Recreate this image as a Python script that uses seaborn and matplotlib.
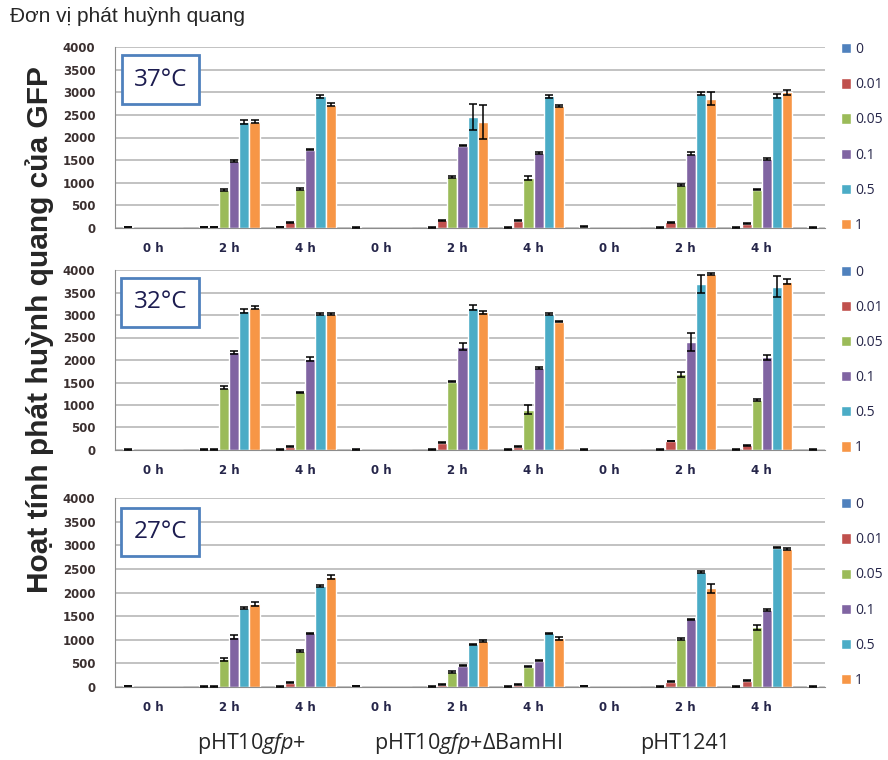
import numpy as np
import pandas as pd
import matplotlib
matplotlib.use("Agg")
import matplotlib.pyplot as plt
import seaborn as sns

sns.set_style("white")
plt.rcParams["font.family"] = ["DejaVu Sans"]
plt.rcParams["mathtext.fontset"] = "custom"
plt.rcParams["mathtext.rm"] = "Open Sans"
plt.rcParams["mathtext.it"] = "Open Sans:italic"

concs = ["0", "0.01", "0.05", "0.1", "0.5", "1"]
colors = ["#4F81BD", "#C0504D", "#9BBB59", "#8064A2", "#4BACC6", "#F79646"]
slot_labels = ["0 h", "2 h", "4 h", "0 h", "2 h", "4 h", "0 h", "2 h", "4 h"]
plasmids = ["pHT10$gfp$+", "pHT10$gfp$+ΔBamHI", "pHT1241"]
temps = ["37°C", "32°C", "27°C"]

# slots: 3 plasmids x (0 h, 2 h, 4 h) + one cut-off slot at the end
vals_37 = [
    [20, 20, 22, 15, 15, 15, 30, 15, 15, 15],
    [0, 20, 125, 0, 170, 160, 0, 125, 96, 0],
    [0, 847, 870, 0, 1128, 1105, 0, 958, 847, 0],
    [0, 1489, 1732, 0, 1820, 1658, 0, 1643, 1525, 0],
    [0, 2336, 2910, 0, 2454, 2910, 0, 2970, 2926, 0],
    [0, 2351, 2727, 0, 2343, 2704, 0, 2860, 3000, 0],
]
err_37 = [
    [5, 5, 5, 5, 5, 5, 5, 5, 5, 5],
    [0, 5, 10, 0, 10, 10, 0, 10, 10, 0],
    [0, 20, 20, 0, 20, 40, 0, 20, 15, 0],
    [0, 20, 15, 0, 15, 30, 0, 30, 15, 0],
    [0, 40, 35, 0, 290, 30, 0, 35, 45, 0],
    [0, 35, 35, 0, 370, 20, 0, 140, 50, 0],
]
vals_32 = [
    [15, 15, 10, 15, 10, 10, 15, 10, 10, 10],
    [0, 15, 75, 0, 163, 75, 0, 200, 104, 0],
    [0, 1385, 1282, 0, 1519, 889, 0, 1682, 1111, 0],
    [0, 2170, 2022, 0, 2296, 1815, 0, 2393, 2060, 0],
    [0, 3090, 3015, 0, 3163, 3022, 0, 3682, 3630, 0],
    [0, 3163, 3015, 0, 3060, 2852, 0, 3912, 3740, 0],
]
err_32 = [
    [5, 5, 5, 5, 5, 5, 5, 5, 5, 5],
    [0, 5, 10, 0, 10, 10, 0, 10, 10, 0],
    [0, 40, 10, 0, 15, 100, 0, 50, 15, 0],
    [0, 40, 40, 0, 80, 20, 0, 200, 50, 0],
    [0, 50, 20, 0, 50, 20, 0, 200, 230, 0],
    [0, 30, 20, 0, 30, 10, 0, 20, 60, 0],
]
vals_27 = [
    [20, 15, 15, 20, 15, 15, 20, 15, 15, 15],
    [0, 15, 92, 0, 50, 50, 0, 113, 135, 0],
    [0, 588, 765, 0, 319, 425, 0, 1012, 1260, 0],
    [0, 1062, 1133, 0, 446, 559, 0, 1430, 1628, 0],
    [0, 1664, 2138, 0, 906, 1133, 0, 2443, 2952, 0],
    [0, 1756, 2322, 0, 970, 1027, 0, 2089, 2917, 0],
]
err_27 = [
    [5, 5, 5, 5, 5, 5, 5, 5, 5, 5],
    [0, 5, 10, 0, 5, 5, 0, 10, 10, 0],
    [0, 30, 15, 0, 15, 10, 0, 15, 50, 0],
    [0, 40, 15, 0, 10, 10, 0, 10, 30, 0],
    [0, 20, 30, 0, 10, 15, 0, 20, 20, 0],
    [0, 50, 40, 0, 20, 25, 0, 100, 15, 0],
]

panels = [(vals_37, err_37), (vals_32, err_32), (vals_27, err_27)]
# axes boxes in pixels: top, bottom
boxes = [(47, 228), (270, 450), (498, 687)]
W, H = 888, 760

fig = plt.figure(figsize=(W / 100, H / 100), dpi=100)

for (vals, errs), (top, bot), temp in zip(panels, boxes, temps):
    ax = fig.add_axes([115 / W, 1 - bot / H, 710 / W, (bot - top) / H])
    rows = []
    for c, series in zip(concs, vals):
        for slot, v in enumerate(series):
            rows.append({"slot": slot, "conc": c, "val": v})
    df = pd.DataFrame(rows)
    sns.barplot(data=df, x="slot", y="val", hue="conc", hue_order=concs,
                order=list(range(10)), palette=colors, width=0.8, saturation=1,
                errorbar=None, ax=ax)
    for cont, e_series in zip(ax.containers, errs):
        for bar, e in zip(cont, e_series):
            h = bar.get_height()
            if h > 0:
                ax.errorbar(bar.get_x() + bar.get_width() / 2, h, yerr=e,
                            fmt="none", ecolor="black", elinewidth=1.1,
                            capsize=3, capthick=1.1, zorder=4)

    ax.set_ylim(0, 4000)
    ax.set_xlim(-0.5, 8.83)
    ax.set_yticks(range(0, 4001, 500))
    ax.yaxis.grid(True, color="#BDBDBD", lw=1.3)
    ax.set_axisbelow(True)
    ax.set_xticks(range(9))
    ax.set_xticklabels(slot_labels)
    ax.set_xticks(np.arange(-0.5, 9, 1), minor=True)
    ax.tick_params(axis="x", which="major", length=0, pad=10, labelsize=8.5,
                   labelcolor="#26264a")
    ax.tick_params(axis="x", which="minor", length=4, color="#8c8c8c")
    ax.tick_params(axis="y", length=5, color="#8c8c8c", pad=9, labelsize=8.5,
                   labelcolor="#3b3030")
    for lbl in ax.get_xticklabels() + ax.get_yticklabels():
        lbl.set_fontweight("bold")
    ax.set_xlabel("")
    ax.set_ylabel("")
    for s in ["top", "right"]:
        ax.spines[s].set_visible(False)
    for s in ["left", "bottom"]:
        ax.spines[s].set_color("#8c8c8c")

    ax.text(0.064, 0.82, temp, transform=ax.transAxes, ha="center", va="center",
            fontsize=17.5, family="Open Sans", color="#1c1c50", zorder=6,
            bbox=dict(boxstyle="square,pad=0.5", fc="white", ec="#4F81BD", lw=2))

    handles, labels = ax.get_legend_handles_labels()
    ax.legend(handles, labels, loc="center left", bbox_to_anchor=(1.022, 0.5),
              frameon=False, fontsize=10, handlelength=0.75, handleheight=0.75,
              handletextpad=0.3, labelspacing=1.45, borderaxespad=0,
              borderpad=0, labelcolor="#26264a",
              prop={"family": "Open Sans", "size": 10})

fig.text(0.045, 0.566, "Hoạt tính phát huỳnh quang của GFP", rotation=90,
         fontsize=21.5, fontweight="bold", family="Liberation Sans",
         ha="center", va="center")
fig.text(0.0113, 0.978, "Đơn vị phát huỳnh quang", fontsize=15,
         family="Liberation Sans", ha="left", va="center")
for p, x in zip(plasmids, [0.283, 0.527, 0.771]):
    fig.text(x, 0.022, p, fontsize=15.5, family="Open Sans", ha="center", va="center")

fig.savefig("out.png", dpi=100)
